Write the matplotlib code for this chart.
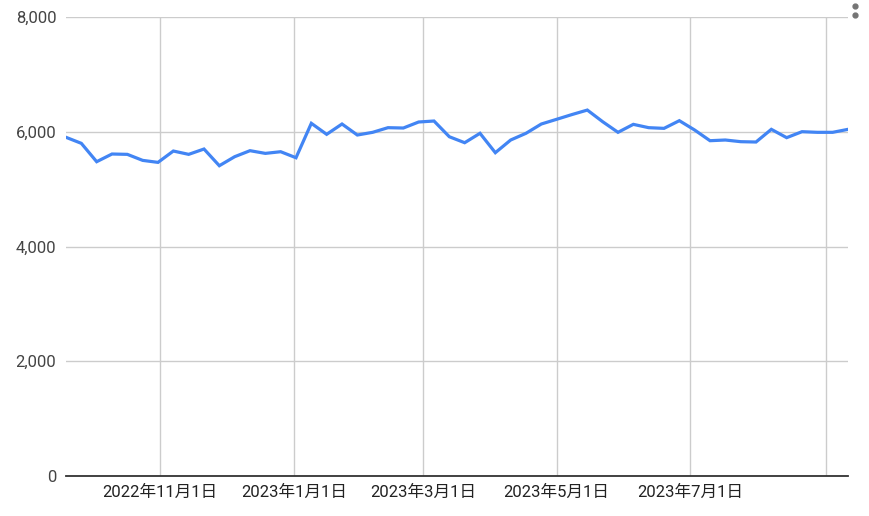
import matplotlib.pyplot as plt
import matplotlib.dates as mdates
import pandas as pd
from matplotlib.ticker import FuncFormatter

plt.rcParams['font.family'] = ['Roboto', 'Noto Sans CJK JP', 'DejaVu Sans']

# weekly values
fechas = pd.date_range("2022-09-19", periods=52, freq="7D")
valores = [5903, 5798, 5478, 5612, 5606, 5501, 5466, 5664, 5606, 5699,
           5408, 5565, 5670, 5623, 5652, 5547, 6147, 5955, 6135, 5943,
           5990, 6071, 6065, 6170, 6187, 5913, 5809, 5973, 5635, 5856,
           5973, 6135, 6217, 6300, 6378, 6175, 5990, 6129, 6071, 6059,
           6193, 6030, 5844, 5856, 5827, 5821, 6042, 5897, 6001, 5990,
           5990, 6042]

ticks_x = pd.to_datetime(["2022-11-01", "2023-01-01", "2023-03-01",
                          "2023-05-01", "2023-07-01", "2023-09-01"])
etiquetas_x = ["2022年11月1日", "2023年1月1日", "2023年3月1日",
               "2023年5月1日", "2023年7月1日", ""]
ticks_y = [0, 2000, 4000, 6000, 8000]

fig = plt.figure(figsize=(8.7, 5.16), dpi=100)
ax = fig.add_axes([66 / 870, 40 / 516, 782 / 870, 459 / 516])

ax.plot(fechas, valores, color="#4285F4", linewidth=2.3, solid_joinstyle="miter", zorder=3)

ax.set_xlim(fechas[0], fechas[-1])
ax.set_ylim(0, 8000)
ax.set_xticks(ticks_x)
ax.set_xticklabels(etiquetas_x)
ax.set_yticks(ticks_y)
ax.yaxis.set_major_formatter(FuncFormatter(lambda v, p: f"{int(v):,}"))

ax.grid(True, color="#cccccc", linewidth=1)
for s in ["top", "right", "left"]:
    ax.spines[s].set_visible(False)
ax.spines["bottom"].set_color("#333333")
ax.spines["bottom"].set_linewidth(1.3)
ax.spines["bottom"].set_zorder(4)

ax.tick_params(axis="both", length=0, labelsize=12)
ax.tick_params(axis="y", pad=7, labelcolor="#444444")
ax.tick_params(axis="x", pad=6, labelcolor="#222222")

# menu dots top-right
fig.add_artist(plt.Line2D([855 / 870, 855 / 870], [1 - 6 / 516, 1 - 15 / 516],
                          transform=fig.transFigure, linestyle="none",
                          marker="o", markersize=3.5, color="#757575"))

plt.savefig("out.png", dpi=100)
